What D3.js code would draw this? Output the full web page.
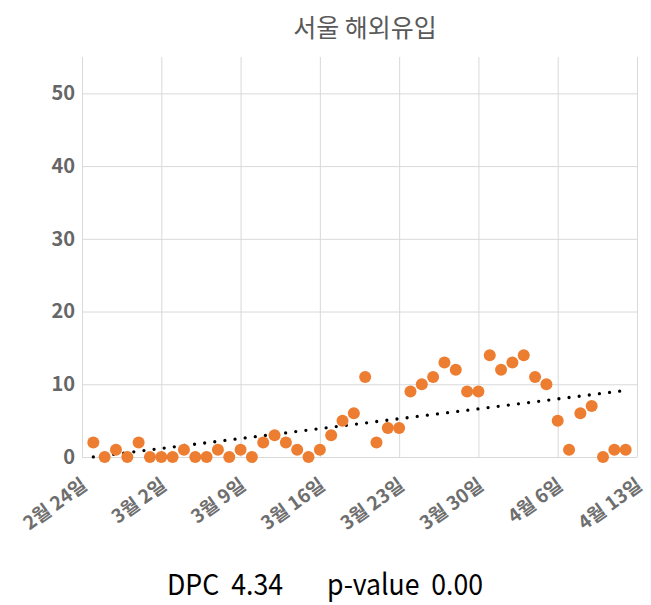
<!DOCTYPE html>
<meta charset="utf-8">
<head>
  <style>
    body { margin: 0; background: #fff; }
    svg { display: block; font-family: 'Noto Sans CJK KR', 'Noto Sans', sans-serif; }
  </style>
</head>
<body>
  <svg id="chart" width="651" height="605"></svg>
</body>

<script src="https://d3js.org/d3.v7.min.js"></script>

<script>

// daily imported cases, Seoul, from 2/25 to 4/12
var firstDay = "2020-02-25";
var cases = [2,0,1,0,2,0,0,0,1,0,0,1,0,1,0,2,3,2,1,0,1,3,5,6,11,2,4,4,9,10,
             11,13,12,9,9,14,12,13,14,11,10,5,1,6,7,0,1,1];

var axisDays = ["2020-02-24","2020-03-02","2020-03-09","2020-03-16",
                "2020-03-23","2020-03-30","2020-04-06","2020-04-13"];
var yTicks = [0, 10, 20, 30, 40, 50];

var title = "서울 해외유입";
var dpcText = "DPC  4.34";
var pText = "p-value  0.00";

var parse = d3.timeParse("%Y-%m-%d");
var fmt = d3.timeFormat("%-m월 %-d일");

var margin = {top: 57, right: 14, bottom: 148, left: 82},
    width = 651 - margin.left - margin.right,
    height = 605 - margin.top - margin.bottom;

var data = cases.map(function(v, i) {
  return {date: d3.timeDay.offset(parse(firstDay), i), value: v};
});
var ticks = axisDays.map(parse);

var x = d3.scaleTime()
    .domain([ticks[0], ticks[ticks.length - 1]])
    .range([0, width]);
var y = d3.scaleLinear().domain([0, 55]).range([height, 0]);

var svg = d3.select("#chart");

svg.append("text")
    .attr("x", 365).attr("y", 37)
    .attr("text-anchor", "middle")
    .style("font-size", "25px")
    .style("fill", "#595959")
    .text(title);

var g = svg.append("g")
    .attr("transform", "translate(" + margin.left + "," + margin.top + ")");

// gridlines
g.append("g")
    .call(d3.axisLeft(y).tickValues(yTicks).tickSize(-width).tickFormat(""))
    .call(function(a) {
      a.select(".domain").remove();
      a.selectAll("line").attr("stroke", "#d9d9d9");
    });

g.append("g")
    .attr("transform", "translate(0," + height + ")")
    .call(d3.axisBottom(x).tickValues(ticks).tickSize(-height).tickFormat(""))
    .call(function(a) {
      a.select(".domain").remove();
      a.selectAll("line").attr("stroke", "#d9d9d9");
    });

// y labels
g.append("g")
    .call(d3.axisLeft(y).tickValues(yTicks).tickSize(0).tickPadding(7))
    .call(function(a) {
      a.select(".domain").remove();
      a.selectAll("text")
        .style("font-size", "20px")
        .style("font-weight", "bold")
        .style("font-family", "'Noto Sans CJK KR', sans-serif")
        .style("fill", "#666");
    });

// x labels
g.append("g")
    .attr("transform", "translate(0," + height + ")")
    .call(d3.axisBottom(x).tickValues(ticks).tickSize(0).tickFormat(fmt))
    .call(function(a) {
      a.select(".domain").remove();
      a.selectAll("text")
        .style("font-size", "19px")
        .style("font-weight", "bold")
        .style("font-family", "'Noto Sans CJK KR', sans-serif")
        .style("fill", "#6e6e6e")
        .style("text-anchor", "end")
        .attr("y", 0)
        .attr("dy", "0")
        .attr("transform", "translate(6,31) rotate(-36)");
    });

// linear trend
var n = data.length;
var mx = d3.mean(data, function(d, i) { return i; });
var my = d3.mean(data, function(d) { return d.value; });
var sxy = d3.sum(data, function(d, i) { return (i - mx) * (d.value - my); });
var sxx = d3.sum(data, function(d, i) { return (i - mx) * (i - mx); });
var slope = sxy / sxx, icpt = my - slope * mx;

g.append("line")
    .attr("x1", x(data[0].date))
    .attr("x2", x(data[n - 1].date))
    .attr("y1", y(icpt))
    .attr("y2", y(icpt + slope * (n - 1)))
    .style("stroke", "#000")
    .style("stroke-width", 3.3)
    .style("stroke-linecap", "round")
    .style("stroke-dasharray", "0 10.2");

g.selectAll("circle.pt")
    .data(data)
  .enter().append("circle")
    .attr("class", "pt")
    .attr("cx", function(d) { return x(d.date); })
    .attr("cy", function(d) { return y(d.value); })
    .attr("r", 6)
    .style("fill", "#ED7D31");

// caption
svg.append("text")
    .attr("x", 167).attr("y", 595)
    .attr("xml:space", "preserve")
    .attr("textLength", 116)
    .attr("lengthAdjust", "spacingAndGlyphs")
    .style("white-space", "pre")
    .style("font-size", "29px")
    .style("fill", "#000")
    .text(dpcText);

svg.append("text")
    .attr("x", 327).attr("y", 595)
    .attr("xml:space", "preserve")
    .attr("textLength", 156)
    .attr("lengthAdjust", "spacingAndGlyphs")
    .style("white-space", "pre")
    .style("font-size", "29px")
    .style("fill", "#000")
    .text(pText);

</script>
